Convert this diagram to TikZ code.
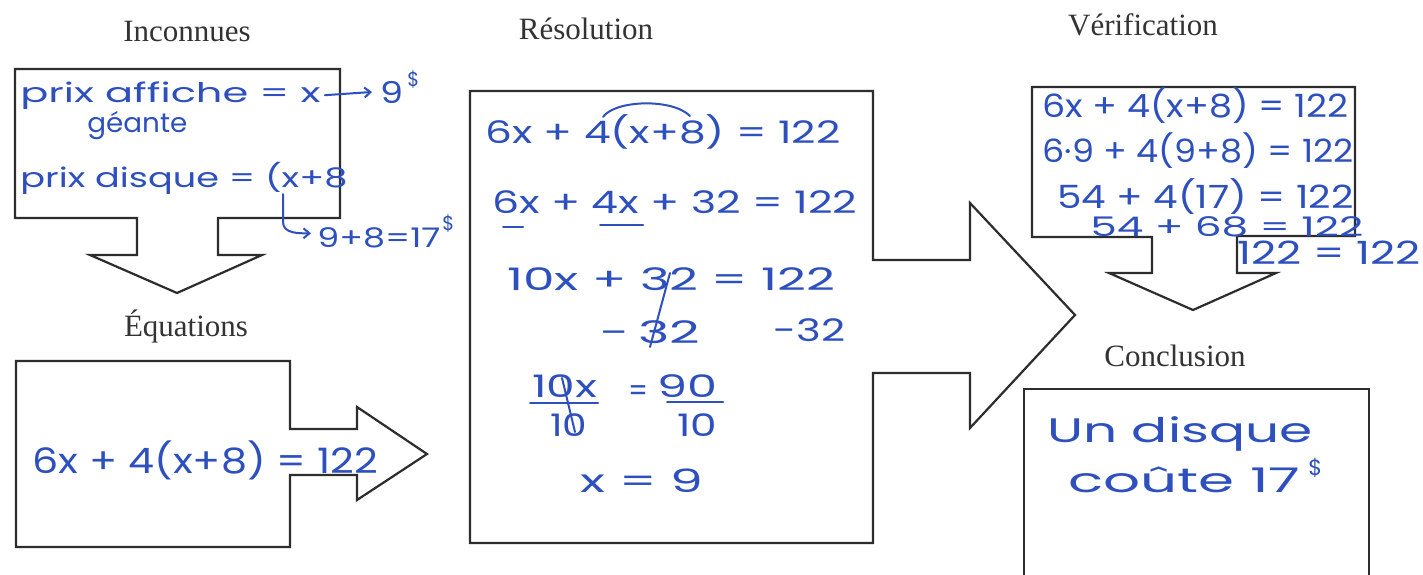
\documentclass[tikz,border=0pt]{standalone}
\usepackage{fontspec}
\setmainfont{Liberation Serif}
\newfontfamily\handfont{Poppins}
\usetikzlibrary{arrows.meta}
\definecolor{ink}{RGB}{45,80,190}
\definecolor{edgegray}{RGB}{45,45,45}
\newdimen\pxu \pxu=0.5pt
\newcommand\hw[3]{\resizebox{#2\pxu}{\height}{\handfont\fontsize{#1pt}{#1pt}\selectfont #3}}
\begin{document}
\begin{tikzpicture}[x=0.5pt,y=-0.5pt,
  shapebox/.style={draw=edgegray, line width=1.1pt, line join=miter, fill=white},
  title/.style={anchor=base, font=\fontsize{15.5pt}{18pt}\selectfont, text=black!80, inner sep=0pt},
  hand/.style={anchor=base west, inner sep=0pt, text=ink},
  inkline/.style={draw=ink, line width=1pt, line cap=round},
  inkarrow/.style={inkline, -{Straight Barb[length=3pt,width=5pt]}}]
\fill[white] (0,0) rectangle (1423,574);
\useasboundingbox (0,0) rectangle (1423,574);

% titles
\node[title] (tInc) at (187,41) {Inconnues};
\node[title] (tRes) at (586,39) {Résolution};
\node[title] (tVer) at (1143,35) {Vérification};
\node[title] (tEqu) at (186,336) {Équations};
\node[title] (tCon) at (1175,366) {Conclusion};

% shapes
\draw[shapebox] (15,69) -- (340,69) -- (340,218) -- (218,218) -- (218,255) -- (262,255)
  -- (177,293) -- (90,255) -- (137,255) -- (137,218) -- (15,218) -- cycle;
\draw[shapebox] (16,361) -- (290,361) -- (290,429) -- (357,429) -- (357,407) -- (427,454)
  -- (357,500) -- (357,475) -- (290,475) -- (290,547) -- (16,547) -- cycle;
\draw[shapebox] (470,91) -- (873,91) -- (873,260) -- (970,260) -- (970,203) -- (1075,315)
  -- (970,428) -- (970,373) -- (873,373) -- (873,543) -- (470,543) -- cycle;
\draw[shapebox] (1032,87) -- (1355,87) -- (1355,236) -- (1237,236) -- (1237,273) -- (1276,273)
  -- (1193,310) -- (1109,273) -- (1152,273) -- (1152,237) -- (1032,237) -- cycle;
\draw[shapebox, fill=none] (1024,576) -- (1024,389) -- (1369,389) -- (1369,576);

% Inconnues
\node[hand] (i1) at (20,102) {\hw{13.5}{300}{prix affiche = x}};
\node[hand] (i9) at (380,103) {\hw{15}{23}{9}};
\node[hand] (id1) at (407,86) {\hw{10}{12}{\$}};
\node[hand] (i2) at (87,132) {\hw{13.5}{100}{géante}};
\node[hand] (i3) at (20,187) {\hw{13.5}{327}{prix disque = (x+8}};
\node[hand] (i4) at (317,247) {\hw{13.5}{123}{9+8=17}};
\node[hand] (id2) at (442,230) {\hw{10}{12}{\$}};
\coordinate (hookstart) at (283,194);
\draw[inkarrow] ([xshift=2pt]i1.east) -- ([xshift=-4pt]i9.west);
\draw[inkarrow] (hookstart) -- (283,222) to[out=-90,in=180] ([xshift=-3pt,yshift=2pt]i4.west);

% Equations
\node[hand] (e1) at (32,473) {\hw{17.5}{346}{6x + 4(x+8) = 122}};

% Resolution
\node[hand] (r1) at (485,143) {\hw{15.5}{355}{6x + 4(x+8) = 122}};
\node[hand] (r2) at (492,213) {\hw{15.5}{365}{6x + 4x + 32 = 122}};
\node[hand] (r3) at (507,290) {\hw{15.5}{328}{10x + 32 = 122}};
\node[hand] (r4) at (600,343) {\hw{15.5}{100}{-\,32}};
\node[hand] (r5) at (773,341) {\hw{15.5}{72}{-32}};
\node[hand] (r6) at (532,397) {\hw{15.5}{65}{10x}};
\node[hand] (r7) at (550,436) {\hw{15.5}{37}{10}};
\node[hand] (r8) at (628,401) {\hw{15.5}{20}{=}};
\node[hand] (r9) at (657,397) {\hw{15.5}{60}{90}};
\node[hand] (r10) at (677,436) {\hw{15.5}{40}{10}};
\node[hand] (r11) at (580,492) {\hw{16}{123}{x = 9}};
\draw[inkline] (603,117) .. controls (615,100) and (672,98) .. (690,116);
\draw[inkline] (503,227) -- (523,227);
\draw[inkline] (600,225) -- (643,225);
\draw[inkline] (670,273) -- (650,347);
\draw[inkline] (530,403) -- (598,403);
\draw[inkline] (667,402) -- (723,402);
\draw[inkline] (562,378) -- (575,432);

% Verification
\node[hand] (v1) at (1042,117) {\hw{16}{306}{6x + 4(x+8) = 122}};
\node[hand] (v2) at (1042,162) {\hw{16}{311}{6·9 + 4(9+8) = 122}};
\node[hand] (v3) at (1057,208) {\hw{16}{296}{54 + 4(17) = 122}};
\node[hand] (v4) at (1090,236) {\hw{13.5}{273}{54 + 68 = 122}};
\node[hand] (v5) at (1237,264) {\hw{16}{183}{122 = 122}};

% Conclusion
\node[hand] (c1) at (1047,442) {\hw{17}{265}{Un disque}};
\node[hand] (c2) at (1068,492) {\hw{17}{232}{coûte 17}};
\node[hand] (c3) at (1308,475) {\hw{11}{14}{\$}};
\end{tikzpicture}
\end{document}
